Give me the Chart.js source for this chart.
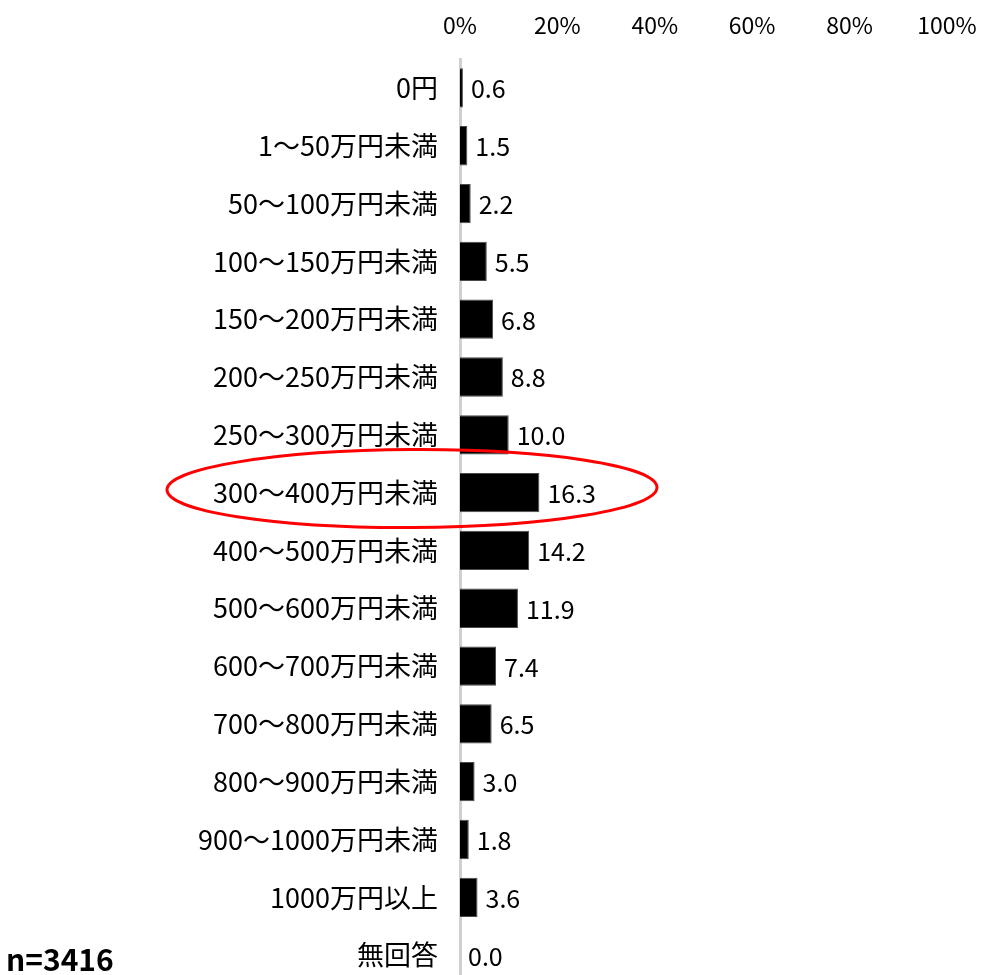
<!DOCTYPE html>
<html>
<head>
<meta charset="utf-8">
<script src="https://cdn.jsdelivr.net/npm/chart.js@4"></script>
<style>
  html, body { margin: 0; padding: 0; background: #fff; overflow: hidden; }
  #wrap { position: relative; width: 982px; height: 984px; }
  #note { position: absolute; left: 6px; top: 936px; font: bold 30px "Noto Sans CJK JP", sans-serif; color: #000; }
</style>
</head>
<body>
<div id="wrap">
  <canvas id="incomeChart" width="982" height="984"></canvas>
  <div id="note">n=3416</div>
</div>
<script>
const categories = ['0円', '1～50万円未満', '50～100万円未満', '100～150万円未満', '150～200万円未満',
  '200～250万円未満', '250～300万円未満', '300～400万円未満', '400～500万円未満', '500～600万円未満',
  '600～700万円未満', '700～800万円未満', '800～900万円未満', '900～1000万円未満', '1000万円以上', '無回答'];
const values = [0.6, 1.5, 2.2, 5.5, 6.8, 8.8, 10.0, 16.3, 14.2, 11.9, 7.4, 6.5, 3.0, 1.8, 3.6, 0.0];
const xTicks = [0, 20, 40, 60, 80, 100];
const highlighted = 7; // 300～400万円未満

const FONT = '"Noto Sans CJK JP", sans-serif';

// value labels to the right of each bar
const valueLabels = {
    id: 'valueLabels',
    afterDatasetsDraw(chart) {
        const ctx = chart.ctx;
        const meta = chart.getDatasetMeta(0);
        ctx.save();
        ctx.font = '25px ' + FONT;
        ctx.fillStyle = '#000';
        ctx.textBaseline = 'middle';
        ctx.textAlign = 'left';
        meta.data.forEach(function (bar, i) {
            ctx.fillText(values[i].toFixed(1), bar.x + 8, bar.y + 1);
        });
        ctx.restore();
    }
};

// red hand-drawn ring round the highlighted row
const ring = {
    id: 'ring',
    afterDraw(chart) {
        const ctx = chart.ctx;
        const y = chart.scales.y.getPixelForValue(highlighted) - 4;
        ctx.save();
        ctx.strokeStyle = '#ff0000';
        ctx.lineWidth = 3;
        ctx.beginPath();
        ctx.ellipse(412, y, 245, 39, -0.005, 0, Math.PI * 2);
        ctx.stroke();
        ctx.restore();
    }
};

const ctx = document.getElementById('incomeChart').getContext('2d');
new Chart(ctx, {
    type: 'bar',
    data: {
        labels: categories,
        datasets: [{
            data: values,
            backgroundColor: '#000000',
            borderColor: '#4a4a4a',
            borderWidth: 1,
            categoryPercentage: 0.68,
            barPercentage: 1.0
        }]
    },
    options: {
        indexAxis: 'y',
        responsive: false,
        animation: false,
        layout: { padding: { left: 0, right: 35, top: 0, bottom: 0 } },
        plugins: {
            legend: { display: false },
            tooltip: { enabled: false }
        },
        scales: {
            x: {
                position: 'top',
                min: 0,
                max: 100,
                afterBuildTicks: function (scale) {
                    scale.ticks = xTicks.map(v => ({ value: v }));
                },
                afterFit: function (scale) {
                    scale.height = 59;
                    scale.paddingLeft = 0;
                    scale.paddingRight = 0;
                },
                ticks: {
                    color: '#000',
                    font: { family: FONT, size: 23 },
                    padding: 12,
                    callback: v => v + '%'
                },
                grid: { display: false },
                border: { display: false }
            },
            y: {
                afterFit: function (scale) {
                    scale.width = 460;
                    scale.paddingTop = 0;
                    scale.paddingBottom = 0;
                },
                ticks: {
                    color: '#000',
                    font: { family: FONT, size: 27 },
                    padding: 14
                },
                grid: { display: false },
                border: { display: true, color: '#d0d0d0', width: 3 }
            }
        }
    },
    plugins: [valueLabels, ring]
});
</script>
</body>
</html>
